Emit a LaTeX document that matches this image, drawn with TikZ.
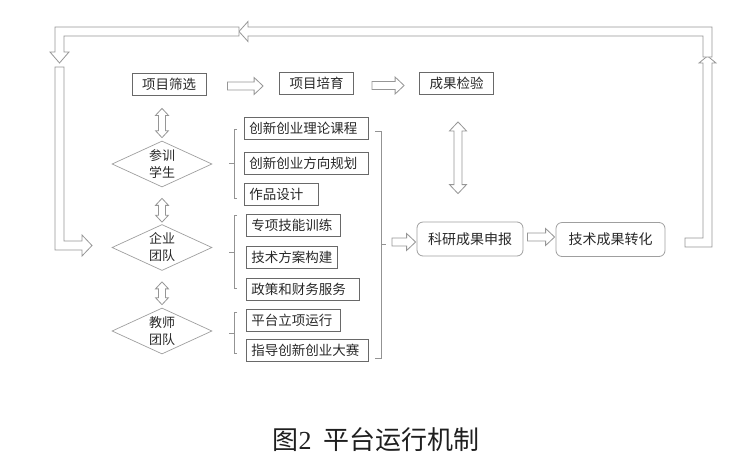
\documentclass[tikz,border=0pt]{standalone}
\usepackage{fontspec}
\newfontfamily\cjk{Noto Sans CJK SC}
\newfontfamily\tms{Liberation Serif}
\usetikzlibrary{calc,shapes.geometric}
\definecolor{boxc}{RGB}{105,105,105}
\definecolor{txt}{RGB}{40,40,40}
\definecolor{arrc}{RGB}{150,150,150}
\tikzset{
 hollow/.style={draw=arrc, line width=0.8pt, fill=white, line join=miter},
 tbox/.style={draw=boxc, line width=0.8pt, font=\cjk\fontsize{13.5}{16}\selectfont, text=txt, minimum height=22pt, inner xsep=10pt, inner ysep=2pt},
 lbox/.style={draw=boxc, line width=0.8pt, font=\cjk\fontsize{13.5}{16}\selectfont, text=txt, minimum height=22pt, inner xsep=5pt, inner ysep=2pt, anchor=west, align=left},
 rbox/.style={draw=gray!75, rounded corners=6pt, line width=0.8pt, font=\cjk\fontsize{14}{16}\selectfont, text=txt, minimum height=34pt},
 dia/.style={diamond, aspect=2, draw=gray!75, line width=0.7pt, minimum width=100pt, minimum height=46pt, inner sep=0pt, align=center, text=txt, font=\cjk\fontsize{13}{17}\selectfont},
 brk/.style={draw=gray!85, line width=0.7pt}
}
\newcommand\harrow[5]{\draw[hollow] let \p1=($#1+(#3,#5)$), \p2=($#2+(-#4,#5)$) in (\x1,\y1+4pt) -- (\x2-9pt,\y1+4pt) -- (\x2-9pt,\y1+8.5pt) -- (\x2,\y1) -- (\x2-9pt,\y1-8.5pt) -- (\x2-9pt,\y1-4pt) -- (\x1,\y1-4pt) -- cycle;}
\newcommand\vdarrow[5]{\draw[hollow] let \p1=#1, \p2=#2 in (\x2,\y1) -- (\x2+#4pt,\y1-#5pt) -- (\x2+#3pt,\y1-#5pt) -- (\x2+#3pt,\y2+#5pt) -- (\x2+#4pt,\y2+#5pt) -- (\x2,\y2) -- (\x2-#4pt,\y2+#5pt) -- (\x2-#3pt,\y2+#5pt) -- (\x2-#3pt,\y1-#5pt) -- (\x2-#4pt,\y1-#5pt) -- cycle;}
\begin{document}
\begin{tikzpicture}[x=1pt,y=-1pt]
\useasboundingbox (0,0) rectangle (745,459);
% top row
\node[tbox] (sx) at (169,84) {项目筛选};
\node[tbox] (pb) at (316.5,83.5) {项目培育};
\node[tbox] (cg) at (456.5,83.5) {成果检验};
% diamonds
\node[dia] (d1) at (162,164) {参训\\学生};
\node[dia] (d2) at (162,247.5) {企业\\团队};
\node[dia] (d3) at (162,331) {教师\\团队};
% left boxes
\node[lbox, text width=114pt] (l1) at (244,128) {创新创业理论课程};
\node[lbox, text width=114pt] (l2) at (244,163) {创新创业方向规划};
\node[lbox, text width=64pt] (l3) at (244,194) {作品设计};
\node[lbox, text width=84pt] (l4) at (246,225) {专项技能训练};
\node[lbox, text width=81pt] (l5) at (246,257.5) {技术方案构建};
\node[lbox, text width=103pt] (l6) at (246,289) {政策和财务服务};
\node[lbox, text width=84pt] (l7) at (246,320) {平台立项运行};
\node[lbox, text width=112pt] (l8) at (246,350) {指导创新创业大赛};
% right boxes
\node[rbox, minimum width=106pt] (ky) at (470,239) {科研成果申报};
\node[rbox, minimum width=109pt] (jz) at (610.5,239.5) {技术成果转化};
% brackets
\draw[brk] (237,129) -- (234,129) -- (234,198) -- (237,198);
\draw[brk] (234,163) -- (229,163);
\draw[brk] (237,215) -- (234,215) -- (234,288) -- (237,288);
\draw[brk] (234,252) -- (229,252);
\draw[brk] (237,312) -- (234,312) -- (234,353) -- (237,353);
\draw[brk] (234,333) -- (229,333);
\draw[brk] (375,131) -- (381,131) -- (381,358) -- (375,358);
\coordinate (br) at (386,244);
\draw[brk] (381,244) -- (br);
% arrows
\harrow{(sx.east)}{(pb.west)}{21}{16}{2}
\harrow{(pb.east)}{(cg.west)}{18}{15}{2}
\harrow{(br)}{(ky.west)}{6}{1}{-2}
\harrow{(ky.east)}{(jz.west)}{4}{1}{-2}
\vdarrow{($(sx.south)+(0,13)$)}{($(d1.north)+(0,-3)$)}{3.5}{6.5}{7}
\vdarrow{($(d1.south)+(0,11)$)}{($(d2.north)+(0,-2)$)}{3.5}{6.5}{7}
\vdarrow{($(d2.south)+(0,11)$)}{($(d3.north)+(0,-3)$)}{3.5}{6.5}{7}
\vdarrow{($(cg.south)+(0,27)$)}{($(ky.north)+(-12,-28)$)}{4}{8.5}{9}
% feedback loop
\draw[hollow] (685,238) -- (703,238) -- (703,63) -- (699,63) -- (707.5,56) -- (716,63) -- (712,63) -- (712,247) -- (685,247) -- cycle;
\draw[hollow] (703,57) -- (703,36) -- (248,36) -- (248,41.5) -- (239,31.5) -- (248,21.5) -- (248,27) -- (712,27) -- (712,57) -- cycle;
\draw[hollow] (239,27) -- (55,27) -- (55,52) -- (50,52) -- (59.5,63) -- (69,52) -- (64,52) -- (64,36) -- (239,36) -- cycle;
\draw[hollow] (55,67) -- (64,67) -- (64,241) -- (82,241) -- (82,235) -- (92,245.5) -- (82,256) -- (82,250) -- (55,250) -- cycle;
% caption
\node[text=black!88, font=\fontsize{26}{30}\selectfont] (cap) at (376,440) {{\cjk 图}{\tms 2}\hspace{0.45em}{\cjk 平台运行机制}};
\end{tikzpicture}
\end{document}
